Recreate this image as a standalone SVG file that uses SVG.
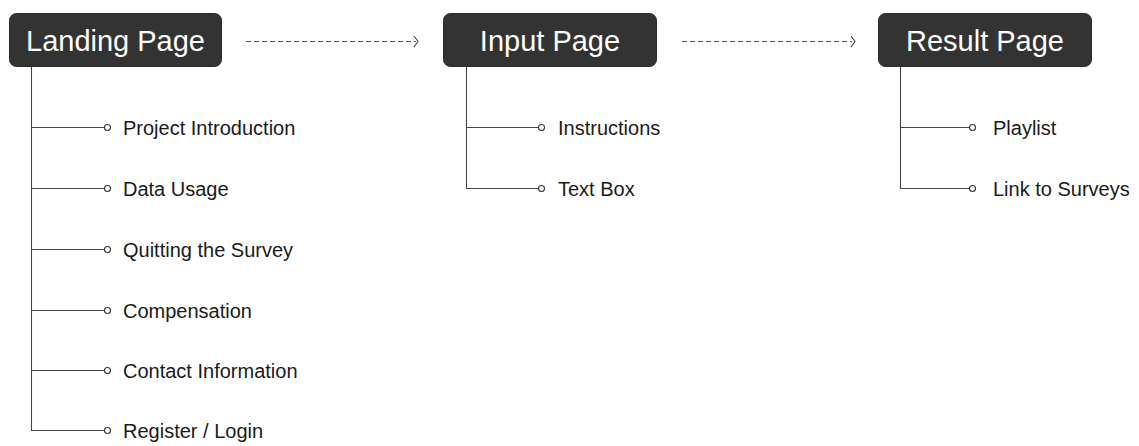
<svg xmlns="http://www.w3.org/2000/svg" width="1139" height="446" viewBox="0 0 1139 446">
<style>
.box{fill:#333333;stroke:#2a2a2a;stroke-width:1}
.title{font-family:"Liberation Sans",Arial,sans-serif;font-size:29px;fill:#ffffff;text-anchor:middle}
.lbl{font-family:"Liberation Sans",Arial,sans-serif;font-size:20px;fill:#1a1a1a}
.ln{fill:none;stroke:#444444;stroke-width:1.1}
.dot{fill:#ffffff;stroke:#333333;stroke-width:1.1}
.dash{fill:none;stroke:#555555;stroke-width:1;stroke-dasharray:5 3}
.chev{fill:none;stroke:#444444;stroke-width:1.1}
</style>
<rect width="1139" height="446" fill="#ffffff"/>
<g id="connectors">
  <line class="dash" x1="246" y1="41.5" x2="416" y2="41.5"/>
  <polyline class="chev" points="414,36 418,41.5 414,47"/>
  <line class="dash" x1="682" y1="41.5" x2="852" y2="41.5"/>
  <polyline class="chev" points="851,36 855,41.5 851,47"/>
  <path class="ln" d="M31.5 67 V430.5 H104.5 M31.5 127.5 H104.5 M31.5 188.5 H104.5 M31.5 249.5 H104.5 M31.5 310.5 H104.5 M31.5 370.5 H104.5"/>
  <path class="ln" d="M466.5 67 V188.5 H538.5 M466.5 127.5 H538.5"/>
  <path class="ln" d="M900.5 67 V188.5 H969.5 M900.5 127.5 H969.5"/>
</g>
<g id="landing">
  <rect class="box" x="9.5" y="13.5" width="212" height="53" rx="7"/>
  <text class="title" x="115.5" y="51">Landing Page</text>
</g>
<g id="input">
  <rect class="box" x="443.5" y="13.5" width="213" height="53" rx="7"/>
  <text class="title" x="550" y="51">Input Page</text>
</g>
<g id="result">
  <rect class="box" x="878.5" y="13.5" width="213" height="53" rx="7"/>
  <text class="title" x="985" y="51">Result Page</text>
</g>
<g id="landing-items">
  <g id="item-project-intro"><circle class="dot" cx="107.5" cy="127.5" r="3"/><text class="lbl" x="123" y="134.5">Project Introduction</text></g>
  <g id="item-data-usage"><circle class="dot" cx="107.5" cy="188.5" r="3"/><text class="lbl" x="123" y="195.5">Data Usage</text></g>
  <g id="item-quitting"><circle class="dot" cx="107.5" cy="249.5" r="3"/><text class="lbl" x="123" y="256.5">Quitting the Survey</text></g>
  <g id="item-compensation"><circle class="dot" cx="107.5" cy="310.5" r="3"/><text class="lbl" x="123" y="317.5">Compensation</text></g>
  <g id="item-contact"><circle class="dot" cx="107.5" cy="370.5" r="3"/><text class="lbl" x="123" y="377.5">Contact Information</text></g>
  <g id="item-register"><circle class="dot" cx="107.5" cy="430.5" r="3"/><text class="lbl" x="123" y="437.5">Register / Login</text></g>
</g>
<g id="input-items">
  <g id="item-instructions"><circle class="dot" cx="541.5" cy="127.5" r="3"/><text class="lbl" x="558" y="134.5">Instructions</text></g>
  <g id="item-textbox"><circle class="dot" cx="541.5" cy="188.5" r="3"/><text class="lbl" x="558" y="195.5">Text Box</text></g>
</g>
<g id="result-items">
  <g id="item-playlist"><circle class="dot" cx="972.5" cy="127.5" r="3"/><text class="lbl" x="993" y="134.5">Playlist</text></g>
  <g id="item-link"><circle class="dot" cx="972.5" cy="188.5" r="3"/><text class="lbl" x="993" y="195.5">Link to Surveys</text></g>
</g>
</svg>
